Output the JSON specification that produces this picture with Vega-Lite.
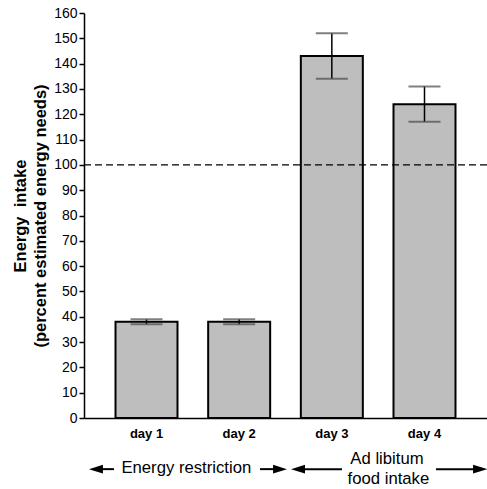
{
  "$schema": "https://vega.github.io/schema/vega-lite/v6.json",
  "width": 403,
  "height": 405,
  "autosize": "none",
  "padding": {"left": 84, "top": 13, "right": 0, "bottom": 71},
  "background": "white",
  "config": {
    "view": {"stroke": null},
    "font": "Liberation Sans",
    "axis": {"grid": false, "domainColor": "black", "domainWidth": 1.5, "tickColor": "black", "labelColor": "black", "titleColor": "black"},
    "axisY": {"tickCount": 16, "tickSize": 5, "tickWidth": 1.5, "labelFontSize": 14, "labelPadding": 2, "titleFontSize": 16.5, "titleFontWeight": "bold", "titlePadding": 5, "titleLineHeight": 20},
    "axisX": {"ticks": false, "labelFontSize": 13, "labelFontWeight": "bold", "labelPadding": 9, "labelAngle": 0, "title": null}
  },
  "datasets": {
    "bars": [
      {"day": "day 1", "mean": 38, "lo": 37, "hi": 39},
      {"day": "day 2", "mean": 38, "lo": 37, "hi": 39},
      {"day": "day 3", "mean": 143, "lo": 134, "hi": 152},
      {"day": "day 4", "mean": 124, "lo": 117, "hi": 131}
    ],
    "ref": [{"level": 100}],
    "shafts": [
      {"u1": 0.455, "u2": 0.649, "y": -20.2},
      {"u1": 2.225, "u2": 2.441, "y": -20.2},
      {"u1": 2.635, "u2": 3.109, "y": -20.2},
      {"u1": 4.124, "u2": 4.599, "y": -20.2}
    ],
    "heads": [
      {"u": 0.455, "y": -20.2, "dir": "left"},
      {"u": 2.441, "y": -20.2, "dir": "right"},
      {"u": 2.635, "y": -20.2, "dir": "left"},
      {"u": 4.599, "y": -20.2, "dir": "right"}
    ],
    "labels": [
      {"u": 1.43, "y": -19.8, "text": "Energy restriction"},
      {"u": 3.595, "y": -16.2, "text": "Ad libitum"},
      {"u": 3.61, "y": -24.1, "text": "food intake"}
    ]
  },
  "layer": [
    {
      "data": {"name": "bars"},
      "encoding": {
        "x": {"field": "day", "type": "nominal", "scale": {"paddingInner": 0.331, "paddingOuter": 0.34}, "title": null}
      },
      "layer": [
        {
          "mark": {"type": "bar", "fill": "#bebebe", "stroke": "black", "strokeWidth": 2},
          "encoding": {
            "y": {"field": "mean", "type": "quantitative", "scale": {"domain": [0, 160], "nice": false}, "title": ["Energy\u00a0 intake", "(percent estimated energy needs)"]}
          }
        },
        {
          "mark": {"type": "rule", "color": "black", "strokeWidth": 1.5},
          "encoding": {
            "y": {"field": "lo", "type": "quantitative", "scale": {"domain": [0, 160], "nice": false}, "title": ["Energy\u00a0 intake", "(percent estimated energy needs)"]},
            "y2": {"field": "hi"}
          }
        },
        {
          "mark": {"type": "tick", "color": "#4a4a4a", "size": 32, "thickness": 2},
          "encoding": {
            "y": {"field": "lo", "type": "quantitative", "scale": {"domain": [0, 160], "nice": false}, "title": ["Energy\u00a0 intake", "(percent estimated energy needs)"]}
          }
        },
        {
          "mark": {"type": "tick", "color": "#4a4a4a", "size": 32, "thickness": 2},
          "encoding": {
            "y": {"field": "hi", "type": "quantitative", "scale": {"domain": [0, 160], "nice": false}, "title": ["Energy\u00a0 intake", "(percent estimated energy needs)"]}
          }
        }
      ]
    },
    {
      "data": {"name": "ref"},
      "mark": {"type": "rule", "color": "black", "strokeWidth": 1.2, "strokeDash": [7, 4]},
      "encoding": {
        "y": {"field": "level", "type": "quantitative", "scale": {"domain": [0, 160], "nice": false}, "title": ["Energy\u00a0 intake", "(percent estimated energy needs)"]}
      }
    },
    {
      "layer": [
        {
          "data": {"name": "shafts"},
          "mark": {"type": "rule", "color": "black", "strokeWidth": 2},
          "encoding": {
            "x": {"field": "u1", "type": "quantitative", "scale": {"domain": [0.326, 4.674], "nice": false, "zero": false}, "axis": null},
            "x2": {"field": "u2"},
            "y": {"field": "y", "type": "quantitative", "scale": {"domain": [0, 160], "nice": false}, "title": ["Energy\u00a0 intake", "(percent estimated energy needs)"]}
          }
        },
        {
          "data": {"name": "heads"},
          "transform": [{"filter": "datum.dir === 'left'"}],
          "mark": {"type": "point", "shape": "M-1,0L1,-0.62L1,0.62Z", "filled": true, "color": "black", "opacity": 1, "size": 196},
          "encoding": {
            "x": {"field": "u", "type": "quantitative", "scale": {"domain": [0.326, 4.674], "nice": false, "zero": false}, "axis": null},
            "y": {"field": "y", "type": "quantitative", "scale": {"domain": [0, 160], "nice": false}, "title": ["Energy\u00a0 intake", "(percent estimated energy needs)"]}
          }
        },
        {
          "data": {"name": "heads"},
          "transform": [{"filter": "datum.dir === 'right'"}],
          "mark": {"type": "point", "shape": "M1,0L-1,-0.62L-1,0.62Z", "filled": true, "color": "black", "opacity": 1, "size": 196},
          "encoding": {
            "x": {"field": "u", "type": "quantitative", "scale": {"domain": [0.326, 4.674], "nice": false, "zero": false}, "axis": null},
            "y": {"field": "y", "type": "quantitative", "scale": {"domain": [0, 160], "nice": false}, "title": ["Energy\u00a0 intake", "(percent estimated energy needs)"]}
          }
        },
        {
          "data": {"name": "labels"},
          "mark": {"type": "text", "fontSize": 16.7, "color": "black", "align": "center", "baseline": "middle"},
          "encoding": {
            "x": {"field": "u", "type": "quantitative", "scale": {"domain": [0.326, 4.674], "nice": false, "zero": false}, "axis": null},
            "y": {"field": "y", "type": "quantitative", "scale": {"domain": [0, 160], "nice": false}, "title": ["Energy\u00a0 intake", "(percent estimated energy needs)"]},
            "text": {"field": "text"}
          }
        }
      ]
    }
  ],
  "resolve": {"scale": {"x": "independent"}}
}
